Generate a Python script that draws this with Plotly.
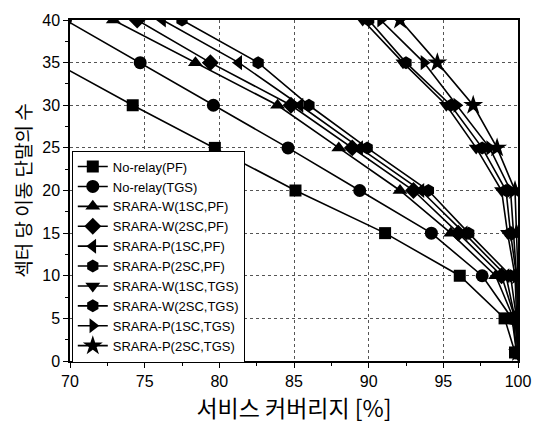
import plotly.graph_objects as go

# y values (number of mobile terminals per sector)
y_levels = [40, 35, 30, 25, 20, 15, 10, 5, 1]

names = ["No-relay(PF)", "No-relay(TGS)", "SRARA-W(1SC,PF)", "SRARA-W(2SC,PF)",
         "SRARA-P(1SC,PF)", "SRARA-P(2SC,PF)", "SRARA-W(1SC,TGS)", "SRARA-W(2SC,TGS)",
         "SRARA-P(1SC,TGS)", "SRARA-P(2SC,TGS)"]

no_relay_pf = [63.5, 69.0, 74.2, 79.7, 85.1, 91.1, 96.1, 99.1, 99.8]
no_relay_tgs = [69.7, 74.7, 79.6, 84.6, 89.4, 94.2, 97.6, 99.6, 99.9]
w1sc_pf = [72.9, 78.4, 83.9, 88.0, 92.1, 95.5, 98.5, 99.7, 99.9]
w2sc_pf = [74.5, 79.4, 84.8, 88.9, 93.0, 96.0, 98.9, 99.8, 100.0]
p1sc_pf = [76.2, 81.3, 85.4, 89.4, 93.5, 96.4, 99.2, 99.8, 100.0]
p2sc_pf = [77.5, 82.6, 86.0, 89.9, 94.0, 96.7, 99.5, 99.9, 100.0]
w1sc_tgs = [89.6, 92.3, 95.2, 97.2, 98.9, 99.3, 99.8, 99.9, 100.0]
w2sc_tgs = [90.0, 92.5, 95.5, 97.6, 99.2, 99.5, 99.9, 100.0, 100.0]
p1sc_tgs = [90.8, 93.7, 95.9, 98.1, 99.5, 99.7, 99.9, 100.0, 100.0]
p2sc_tgs = [92.1, 94.6, 97.0, 98.6, 99.8, 99.9, 100.0, 100.0, 100.0]

series = [no_relay_pf, no_relay_tgs, w1sc_pf, w2sc_pf, p1sc_pf, p2sc_pf,
          w1sc_tgs, w2sc_tgs, p1sc_tgs, p2sc_tgs]
symbols = ["square", "circle", "triangle-up", "diamond", "triangle-left", "hexagon",
           "triangle-down", "hexagon", "triangle-right", "star"]
sizes = [12, 13, 13, 13, 13, 13, 13, 13, 13, 15]

fig = go.Figure()
for nm, xs, sym, sz in zip(names, series, symbols, sizes):
    fig.add_trace(go.Scatter(
        x=xs, y=y_levels, name=nm, mode="lines+markers",
        line=dict(color="black", width=1.6),
        marker=dict(symbol=sym, size=sz, color="black"),
    ))

axis_common = dict(
    showline=True, linecolor="black", linewidth=1.5, mirror=True,
    ticks="outside", ticklen=5, tickwidth=1.2, tickcolor="black",
    showgrid=True, gridcolor="#555", griddash="dot", gridwidth=1,
    zeroline=False,
    tickfont=dict(family="Liberation Sans, Arial", size=16, color="black"),
    minor=dict(ticks="outside", ticklen=3, tickcolor="black", showgrid=False),
)

fig.update_xaxes(range=[70, 100], dtick=5, **axis_common)
fig.update_xaxes(minor_dtick=2.5,
                 title=dict(text="서비스 커버리지 [%]", standoff=8,
                            font=dict(family="Noto Sans CJK KR", size=23, color="black")))
fig.update_yaxes(range=[0, 40], dtick=5, **axis_common)
fig.update_yaxes(minor_dtick=2.5,
                 title=dict(text="섹터 당 이동 단말의 수", standoff=6,
                            font=dict(family="Noto Sans CJK KR", size=19, color="black")))

fig.update_layout(
    width=543, height=428,
    margin=dict(l=70, r=15, t=13, b=67),
    plot_bgcolor="white", paper_bgcolor="white",
    legend=dict(x=0.004, y=0.617, xanchor="left", yanchor="top",
                bgcolor="white", bordercolor="black", borderwidth=1,
                font=dict(family="Liberation Sans, Arial", size=13, color="black"),
                tracegroupgap=0, itemwidth=30),
    showlegend=True,
)

fig.write_html("out.html")
